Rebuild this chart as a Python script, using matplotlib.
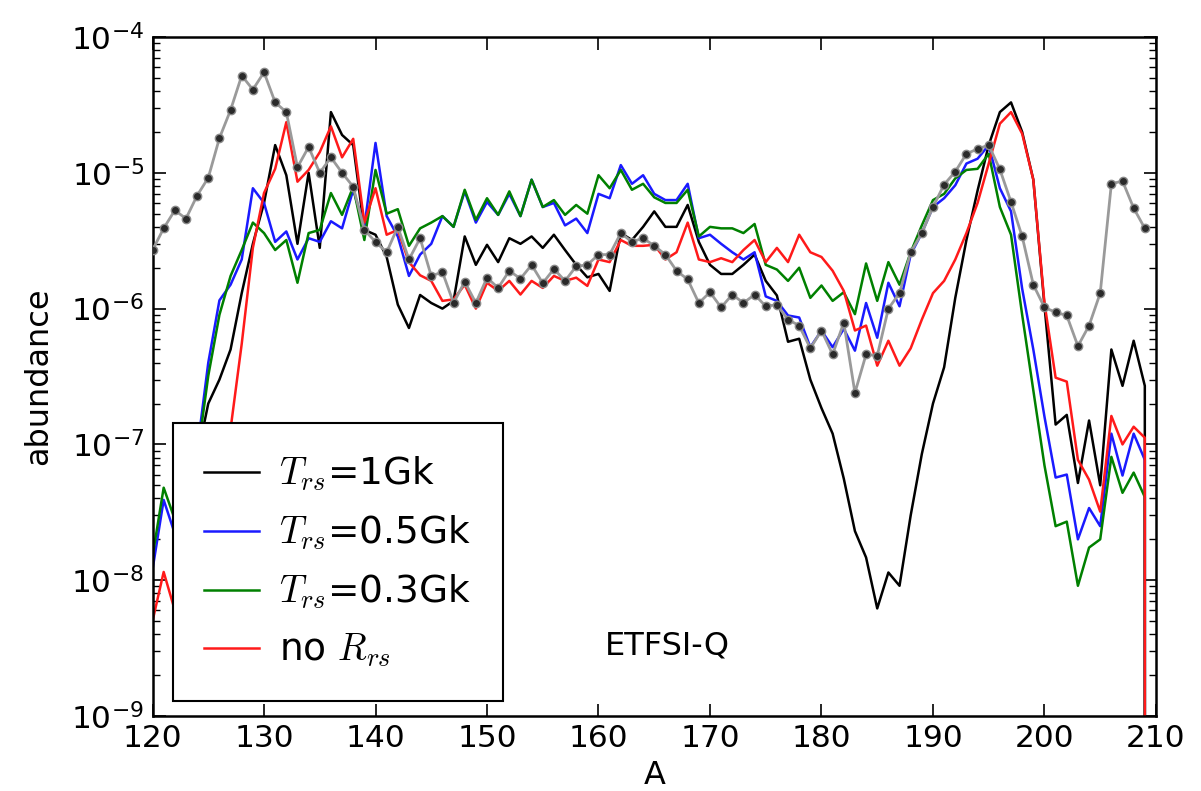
import numpy as np
import matplotlib
matplotlib.use("Agg")
import matplotlib.pyplot as plt

# ---------------- data ----------------
A_color = list(range(120, 211))   # 120..210
A_gray = list(range(120, 210))    # 120..209
nan = float('nan')

gray = [2.7e-6, 3.9e-6, 5.3e-6, 4.6e-6, 6.8e-6, 9.2e-6, 1.8e-5, 2.9e-5, 5.2e-5, 4.1e-5,
        5.5e-5, 3.3e-5, 2.8e-5, 1.1e-5, 1.55e-5, 1.0e-5, 1.3e-5, 1.0e-5, 7.9e-6, 3.8e-6,
        3.1e-6, 2.6e-6, 4.0e-6, 2.3e-6, 3.3e-6, 1.74e-6, 1.86e-6, 1.1e-6, 1.58e-6, 1.1e-6,
        1.69e-6, 1.42e-6, 1.9e-6, 1.66e-6, 2.1e-6, 1.54e-6, 1.96e-6, 1.6e-6, 2.05e-6, 2.1e-6,
        2.5e-6, 2.5e-6, 3.6e-6, 3.1e-6, 3.3e-6, 2.9e-6, 2.5e-6, 1.9e-6, 1.64e-6, 1.1e-6,
        1.32e-6, 1.02e-6, 1.27e-6, 1.1e-6, 1.27e-6, 1.04e-6, 1.07e-6, 8.3e-7, 7.5e-7, 5.1e-7,
        6.9e-7, 4.6e-7, 7.9e-7, 2.4e-7, 4.6e-7, 4.5e-7, 1.0e-6, 1.3e-6, 2.6e-6, 3.6e-6,
        5.6e-6, 8.2e-6, 1.02e-5, 1.38e-5, 1.5e-5, 1.6e-5, 1.06e-5, 6.1e-6, 3.4e-6, 1.5e-6,
        1.02e-6, 9.4e-7, 8.9e-7, 5.3e-7, 7.5e-7, 1.3e-6, 8.3e-6, 8.7e-6, 5.5e-6, 3.9e-6]

t_1gk = [nan, nan, nan, 1.5e-8, 8e-8, 2.0e-7, 3.0e-7, 5.0e-7, 1.3e-6, 3.0e-6,
         6.0e-6, 1.6e-5, 9.6e-6, 3.0e-6, 1.0e-5, 2.8e-6, 2.8e-5, 1.9e-5, 1.6e-5, 3.8e-6,
         3.5e-6, 2.4e-6, 1.07e-6, 7.2e-7, 1.26e-6, 1.1e-6, 1.0e-6, 1.14e-6, 3.4e-6, 2.1e-6,
         2.95e-6, 2.2e-6, 3.3e-6, 3.0e-6, 3.4e-6, 2.8e-6, 3.5e-6, 2.7e-6, 2.1e-6, 1.7e-6,
         1.8e-6, 1.35e-6, 3.6e-6, 3.2e-6, 4.0e-6, 5.2e-6, 4.0e-6, 4.0e-6, 5.8e-6, 3.1e-6,
         2.1e-6, 1.8e-6, 1.8e-6, 2.1e-6, 2.5e-6, 1.6e-6, 1.25e-6, 5.7e-7, 6.0e-7, 3.0e-7,
         1.85e-7, 1.2e-7, 5.6e-8, 2.3e-8, 1.47e-8, 6.2e-9, 1.14e-8, 9.1e-9, 3.0e-8, 8.5e-8,
         2.0e-7, 3.7e-7, 1.2e-6, 3.2e-6, 7.4e-6, 1.6e-5, 2.8e-5, 3.3e-5, 2.0e-5, 8.9e-6,
         1.05e-6, 1.4e-7, 1.65e-7, 5.2e-8, 1.5e-7, 5.0e-8, 5.0e-7, 2.7e-7, 5.8e-7, 2.7e-7,
         0.0]

t_05gk = [1.2e-8, 3.9e-8, 2.2e-8, 3e-8, 9e-8, 4.0e-7, 1.15e-6, 1.5e-6, 2.3e-6, 7.7e-6,
          6.0e-6, 3.1e-6, 3.7e-6, 2.3e-6, 3.3e-6, 3.1e-6, 4.4e-6, 3.9e-6, 7.5e-6, 4.0e-6,
          1.66e-5, 4.8e-6, 3.4e-6, 1.74e-6, 2.5e-6, 3.0e-6, 4.8e-6, 4.0e-6, 7.3e-6, 4.3e-6,
          6.1e-6, 4.9e-6, 7.0e-6, 4.8e-6, 8.9e-6, 5.6e-6, 6.0e-6, 4.1e-6, 4.6e-6, 3.6e-6,
          7.0e-6, 6.5e-6, 1.14e-5, 8.3e-6, 9.6e-6, 7.0e-6, 6.3e-6, 6.3e-6, 8.3e-6, 3.3e-6,
          3.5e-6, 3.0e-6, 2.6e-6, 2.3e-6, 2.6e-6, 1.23e-6, 1.14e-6, 8.9e-7, 8.6e-7, 5.2e-7,
          6.9e-7, 5.2e-7, 7.1e-7, 4.9e-7, 1.1e-6, 6.1e-7, 1.55e-6, 1.04e-6, 2.5e-6, 3.6e-6,
          5.6e-6, 6.5e-6, 8.1e-6, 1.17e-5, 1.27e-5, 1.6e-5, 7.7e-6, 5.2e-6, 1.4e-6, 5.0e-7,
          1.6e-7, 5.7e-8, 6.0e-8, 2.0e-8, 3.4e-8, 2.5e-8, 1.2e-7, 5.9e-8, 1.2e-7, 7.7e-8,
          0.0]

t_03gk = [1.5e-8, 4.8e-8, 2.8e-8, 3.5e-8, 8e-8, 3.2e-7, 9e-7, 1.74e-6, 2.7e-6, 4.3e-6,
          3.6e-6, 2.7e-6, 3.2e-6, 1.55e-6, 3.6e-6, 3.8e-6, 7.1e-6, 4.9e-6, 7.9e-6, 3.2e-6,
          1.05e-5, 5.0e-6, 5.4e-6, 2.9e-6, 3.9e-6, 4.3e-6, 4.8e-6, 4.0e-6, 7.5e-6, 4.5e-6,
          6.5e-6, 4.9e-6, 7.3e-6, 4.8e-6, 8.9e-6, 5.6e-6, 6.3e-6, 4.9e-6, 5.8e-6, 5.0e-6,
          9.6e-6, 7.7e-6, 1.05e-5, 7.5e-6, 8.3e-6, 6.6e-6, 6.0e-6, 6.0e-6, 7.5e-6, 3.4e-6,
          4.0e-6, 3.9e-6, 3.9e-6, 3.6e-6, 4.2e-6, 2.1e-6, 1.94e-6, 1.6e-6, 2.0e-6, 1.2e-6,
          1.48e-6, 1.14e-6, 1.32e-6, 9.1e-7, 2.15e-6, 1.14e-6, 2.2e-6, 1.5e-6, 2.6e-6, 4.1e-6,
          6.3e-6, 7.0e-6, 9.1e-6, 1.05e-5, 1.07e-5, 1.38e-5, 5.6e-6, 3.5e-6, 9e-7, 2.5e-7,
          7e-8, 2.5e-8, 2.7e-8, 9.1e-9, 1.74e-8, 2.0e-8, 8.1e-8, 4.4e-8, 6.2e-8, 4.1e-8,
          0.0]

no_rrs = [5e-9, 1.15e-8, 6e-9, 8e-9, 1.2e-8, 2.5e-8, 6e-8, 1.3e-7, 5.5e-7, 2.8e-6,
          7.1e-6, 1.07e-5, 2.36e-5, 8.6e-6, 1.05e-5, 1.42e-5, 2.2e-5, 1.3e-5, 1.78e-5, 4.3e-6,
          7.7e-6, 3.5e-6, 3.8e-6, 2.2e-6, 1.76e-6, 1.6e-6, 1.14e-6, 1.17e-6, 1.5e-6, 1.0e-6,
          1.55e-6, 1.35e-6, 1.6e-6, 1.27e-6, 1.6e-6, 1.42e-6, 1.74e-6, 1.6e-6, 1.69e-6, 1.47e-6,
          2.3e-6, 2.2e-6, 3.2e-6, 2.9e-6, 2.9e-6, 2.95e-6, 2.3e-6, 2.6e-6, 4.3e-6, 2.3e-6,
          2.2e-6, 2.35e-6, 2.2e-6, 2.7e-6, 3.2e-6, 2.2e-6, 2.8e-6, 2.2e-6, 3.5e-6, 2.6e-6,
          2.4e-6, 1.9e-6, 1.35e-6, 6.9e-7, 7.5e-7, 3.8e-7, 5.8e-7, 3.8e-7, 5.1e-7, 8.3e-7,
          1.3e-6, 1.6e-6, 2.3e-6, 3.6e-6, 6.0e-6, 1.17e-5, 2.3e-5, 2.8e-5, 1.94e-5, 8.9e-6,
          1.1e-6, 3.1e-7, 2.9e-7, 7.7e-8, 5.5e-8, 3.2e-8, 1.62e-7, 1.0e-7, 1.35e-7, 1.12e-7,
          0.0]

labels = [r'$T_{rs}$=1Gk', r'$T_{rs}$=0.5Gk', r'$T_{rs}$=0.3Gk', r'no $R_{rs}$']
colors = ['k', '#1a1aff', 'g', '#ff1a1a']

x_ticks = list(range(120, 211, 10))
y_ticks = [1e-9, 1e-8, 1e-7, 1e-6, 1e-5, 1e-4]
y_tick_labels = [r'$\mathregular{10^{-9}}$', r'$\mathregular{10^{-8}}$', r'$\mathregular{10^{-7}}$',
                 r'$\mathregular{10^{-6}}$', r'$\mathregular{10^{-5}}$', r'$\mathregular{10^{-4}}$']

# ---------------- plot ----------------
plt.rcParams['font.family'] = ['DejaVu Sans']
plt.rcParams['mathtext.fontset'] = 'cm'

fig = plt.figure(figsize=(12.01, 7.91), dpi=100)
ax = fig.add_axes([0.127, 0.0948, 0.8355, 0.8584])

series = [t_1gk, t_05gk, t_03gk, no_rrs]
handles = []
for ys, c, lab in zip(series, colors, labels):
    h, = ax.plot(A_color, np.array(ys), color=c, lw=1.8, label=lab)
    handles.append(h)

ax.plot(A_gray, gray, color='#9a9a9a', lw=2.0, marker='o', ms=6,
        mfc='#2a2a2a', mec='#8a8a8a', mew=1.0, zorder=5)

ax.set_yscale('log', nonpositive='clip')
ax.set_xlim(120, 210)
ax.set_ylim(1e-9, 1e-4)
ax.set_xticks(x_ticks)
ax.set_xticklabels([str(v) for v in x_ticks])
ax.set_yticks(y_ticks)
ax.set_yticklabels(y_tick_labels)

ax.tick_params(which='both', direction='in', top=True, right=True)
ax.tick_params(which='major', length=9, width=1.2, labelsize=22.5, pad=6)
ax.tick_params(which='minor', length=5, width=1.0)
for sp in ax.spines.values():
    sp.set_linewidth(1.8)

ax.set_xlabel('A', fontsize=23, labelpad=5)
ax.set_ylabel('abundance', fontsize=23, labelpad=12)

leg = ax.legend(handles=handles, loc='lower left', bbox_to_anchor=(0.020, 0.022),
                borderaxespad=0, fancybox=False, framealpha=1, edgecolor='k',
                prop={'family': ['DejaVu Sans'], 'size': 27},
                handlelength=1.45, labelspacing=0.55, borderpad=0.85, handletextpad=0.55)
leg.get_frame().set_linewidth(1.5)
leg.set_zorder(10)

ax.text(0.513, 0.103, 'ETFSI-Q', transform=ax.transAxes, ha='center', va='center',
        fontsize=23, family=['DejaVu Sans'])

fig.savefig('out.png', dpi=100)
